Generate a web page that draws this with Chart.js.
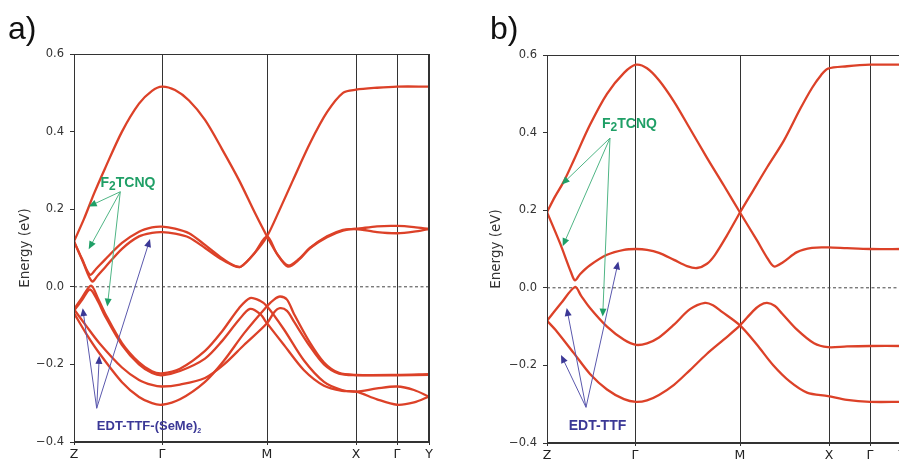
<!DOCTYPE html>
<html>
<head>
<meta charset="utf-8">
<script src="https://cdn.jsdelivr.net/npm/chart.js@4.4.0/dist/chart.umd.min.js"></script>
<style>
  html, body { margin:0; padding:0; background:#fff; overflow:hidden; width:899px; height:461px; }
  canvas { position:absolute; top:0; }
  #ca { left:0; }
  #cb { left:473px; }
</style>
</head>
<body>
<canvas id="ca" width="440" height="461"></canvas>
<canvas id="cb" width="440" height="461"></canvas>
<script>
// ── k-path: high-symmetry points ─────────────────────────
const K_POS = [0, 88, 193, 282, 323, 355];
const K_LAB = ["Z", "Γ", "M", "X", "Γ", "Y"];
const E_TICKS = [-0.4, -0.2, 0, 0.2, 0.4, 0.6];

// ── a) EDT-TTF-(SeMe)2 / F2TCNQ bands  [k, E(eV)] ────────
const a1 = [[0,0.117],[10,0.175],[20,0.24],[31,0.305],[48,0.4],[65,0.472],[78,0.505],[88,0.516],[101,0.507],[115,0.48],[131,0.43],[148,0.355],[165,0.275],[181,0.19],[193,0.13],[203,0.085],[214,0.052],[225,0.07],[236,0.1],[253,0.13],[269,0.147],[282,0.149],[303,0.156],[323,0.157],[340,0.154],[355,0.149]];
const a2 = [[0,0.117],[8,0.072],[16,0.031],[22,0.046],[31,0.07],[48,0.113],[65,0.142],[78,0.153],[88,0.155],[101,0.15],[115,0.138],[131,0.108],[148,0.074],[160,0.055],[167,0.052],[180,0.085],[193,0.13],[205,0.195],[219,0.275],[236,0.37],[253,0.45],[269,0.5],[282,0.508],[303,0.513],[323,0.516],[355,0.516]];
const a3 = [[0,0.117],[9,0.064],[18,0.014],[24,0.03],[31,0.05],[48,0.098],[65,0.13],[78,0.139],[88,0.141],[101,0.137],[115,0.127],[131,0.1],[148,0.07],[160,0.054],[167,0.052],[180,0.085],[193,0.13],[203,0.085],[214,0.055],[225,0.072],[236,0.1],[253,0.128],[269,0.145],[282,0.149],[303,0.141],[323,0.138],[340,0.142],[355,0.149]];
const a4 = [[0,-0.058],[8,-0.028],[17,0.003],[24,-0.03],[31,-0.068],[48,-0.145],[65,-0.195],[78,-0.218],[88,-0.223],[106,-0.211],[131,-0.165],[148,-0.115],[165,-0.055],[176,-0.029],[186,-0.036],[193,-0.05],[210,-0.11],[230,-0.19],[250,-0.245],[268,-0.266],[282,-0.27],[303,-0.262],[323,-0.257],[340,-0.266],[355,-0.283]];
const a5 = [[0,-0.062],[8,-0.034],[16,-0.007],[24,-0.038],[31,-0.075],[48,-0.15],[65,-0.2],[78,-0.222],[88,-0.228],[106,-0.217],[131,-0.185],[148,-0.14],[165,-0.085],[176,-0.057],[186,-0.07],[193,-0.094],[210,-0.15],[230,-0.215],[250,-0.255],[268,-0.268],[282,-0.27],[303,-0.29],[323,-0.304],[340,-0.298],[355,-0.283]];
const a6 = [[0,-0.058],[12,-0.1],[25,-0.144],[48,-0.208],[65,-0.24],[78,-0.253],[88,-0.257],[106,-0.252],[131,-0.235],[150,-0.2],[170,-0.15],[193,-0.094],[200,-0.066],[206,-0.055],[213,-0.062],[220,-0.09],[235,-0.15],[250,-0.2],[265,-0.224],[282,-0.228],[323,-0.228],[355,-0.227]];
const a7 = [[0,-0.068],[12,-0.12],[25,-0.17],[48,-0.246],[65,-0.284],[78,-0.3],[88,-0.304],[106,-0.29],[131,-0.245],[150,-0.19],[170,-0.12],[193,-0.05],[200,-0.033],[206,-0.025],[213,-0.033],[220,-0.07],[235,-0.14],[250,-0.195],[265,-0.222],[282,-0.227],[323,-0.227],[355,-0.225]];

// ── b) EDT-TTF / F2TCNQ bands ────────────────────────────
const b1 = [[0,0.195],[8,0.235],[17,0.275],[27,0.33],[43,0.42],[60,0.5],[77,0.554],[89,0.575],[100,0.566],[112,0.535],[127,0.48],[143,0.41],[160,0.335],[177,0.263],[193,0.194],[210,0.122],[220,0.078],[227,0.055],[236,0.066],[250,0.092],[265,0.103],[281,0.104],[300,0.102],[323,0.1],[355,0.1]];
const b2 = [[0,0.195],[13,0.115],[24,0.04],[28,0.019],[33,0.035],[43,0.058],[60,0.085],[77,0.098],[89,0.1],[100,0.098],[112,0.09],[127,0.072],[140,0.056],[150,0.051],[160,0.062],[168,0.085],[180,0.135],[193,0.194],[206,0.25],[220,0.31],[237,0.38],[253,0.46],[265,0.515],[274,0.548],[281,0.565],[300,0.571],[323,0.575],[355,0.575]];
const b3 = [[0,-0.085],[14,-0.04],[28,0.002],[34,-0.02],[43,-0.052],[60,-0.1],[77,-0.134],[89,-0.147],[100,-0.143],[112,-0.128],[127,-0.095],[143,-0.055],[158,-0.039],[166,-0.045],[175,-0.062],[193,-0.097],[210,-0.147],[226,-0.199],[243,-0.242],[260,-0.27],[281,-0.279],[300,-0.289],[323,-0.294],[355,-0.294]];
const b4 = [[0,-0.085],[10,-0.113],[27,-0.169],[43,-0.222],[60,-0.262],[77,-0.287],[89,-0.294],[100,-0.29],[112,-0.276],[127,-0.25],[143,-0.212],[160,-0.17],[177,-0.133],[193,-0.097],[206,-0.06],[213,-0.045],[220,-0.039],[228,-0.047],[235,-0.066],[250,-0.108],[267,-0.143],[281,-0.153],[300,-0.151],[323,-0.15],[355,-0.15]];

// ── annotations (label centre, arrow origin, arrow tips in k/E) ──
const NOTES_A = [
  { parts:[["F",0],["2",1],["TCNQ",0]], at:[54,0.268], size:14, text:"#1f9f66", line:"#4fb585",
    from:[46.3,0.245], to:[[14.7,0.207],[14.7,0.097],[33.3,-0.051]] },
  { parts:[["EDT-TTF-(SeMe)",0],["2",2]], at:[75,-0.361], size:13, text:"#3b3896", line:"#5a58ad",
    from:[22.7,-0.313], to:[[8.7,-0.055],[25.3,-0.178],[76,0.123]] }
];
const NOTES_B = [
  { parts:[["F",0],["2",1],["TCNQ",0]], at:[82.5,0.423], size:14, text:"#1f9f66", line:"#4fb585",
    from:[63,0.386], to:[[14.7,0.266],[15.7,0.107],[55.7,-0.074]] },
  { parts:[["EDT-TTF",0]], at:[50.5,-0.356], size:14, text:"#3b3896", line:"#5a58ad",
    from:[39,-0.308], to:[[19.7,-0.052],[14,-0.173],[71.3,0.068]] }
];

const RED = "#dc4128";
Chart.defaults.font.family = "'DejaVu Sans', sans-serif";

function arrow(ctx, x0, y0, x1, y1, col, head) {
  const a = Math.atan2(y1 - y0, x1 - x0), L = 8, W = 3.5;
  ctx.strokeStyle = col; ctx.lineWidth = 1;
  ctx.beginPath(); ctx.moveTo(x0, y0); ctx.lineTo(x1 - 5*Math.cos(a), y1 - 5*Math.sin(a)); ctx.stroke();
  ctx.fillStyle = head;
  ctx.beginPath();
  ctx.moveTo(x1, y1);
  ctx.lineTo(x1 - L*Math.cos(a) + W*Math.sin(a), y1 - L*Math.sin(a) - W*Math.cos(a));
  ctx.lineTo(x1 - L*Math.cos(a) - W*Math.sin(a), y1 - L*Math.sin(a) + W*Math.cos(a));
  ctx.closePath(); ctx.fill();
}

function label(ctx, n, cx, cy) {
  const fonts = [`bold ${n.size}px 'Liberation Sans'`, `bold ${n.size-2}px 'Liberation Sans'`, `bold ${n.size-6}px 'Liberation Sans'`];
  const shift = [0, 4, 4];
  let w = 0;
  n.parts.forEach(([t, k]) => { ctx.font = fonts[k]; w += ctx.measureText(t).width; });
  let x = cx - w/2;
  ctx.fillStyle = n.text; ctx.textBaseline = "middle"; ctx.textAlign = "left";
  n.parts.forEach(([t, k]) => { ctx.font = fonts[k]; ctx.fillText(t, x, cy + shift[k]); x += ctx.measureText(t).width; });
}

// ── frame, letters, axis title, arrows ───────────────────
const deco = {
  id: "deco",
  afterDatasetsDraw(chart) {
    const { ctx, chartArea: c } = chart;
    ctx.save();
    ctx.strokeStyle = "#333"; ctx.lineWidth = 1;
    ctx.strokeRect(Math.round(c.left) + 0.5, Math.round(c.top) + 0.5, Math.round(c.right - c.left) - 1, Math.round(c.bottom - c.top) - 1);
    ctx.restore();
  },
  afterDraw(chart, args, o) {
    const { ctx, chartArea: c, scales: { x, y } } = chart;
    ctx.save();
    ctx.fillStyle = "#111"; ctx.font = "32px 'Liberation Sans'"; ctx.textBaseline = "alphabetic";
    ctx.fillText(o.letter, o.letterX, 39);
    ctx.save();
    ctx.translate(o.titleX, (c.top + c.bottom) / 2); ctx.rotate(-Math.PI / 2);
    ctx.font = "13.5px 'DejaVu Sans'"; ctx.textAlign = "center"; ctx.textBaseline = "middle"; ctx.fillStyle = "#333";
    ctx.fillText("Energy (eV)", 0, 0);
    ctx.restore();
    o.notes.forEach(n => {
      const fx = x.getPixelForValue(n.from[0]), fy = y.getPixelForValue(n.from[1]);
      n.to.forEach(([k, e]) => arrow(ctx, fx, fy, x.getPixelForValue(k), y.getPixelForValue(e), n.line, n.text));
      label(ctx, n, x.getPixelForValue(n.at[0]), y.getPixelForValue(n.at[1]));
    });
    ctx.restore();
  }
};

function makeChart(id, bands, notes, letter, letterX, titleX, top, xh) {
  const sets = bands.map(b => ({
    data: b.map(([k, e]) => ({ x: k, y: e })),
    borderColor: RED, borderWidth: 2.3, pointRadius: 0,
    tension: 0.3, fill: false, order: 0
  }));
  sets.push({
    data: [{ x: K_POS[0], y: 0 }, { x: K_POS[K_POS.length - 1], y: 0 }],
    borderColor: "#444", borderWidth: 1, borderDash: [3, 2.5], pointRadius: 0, order: 1
  });
  return new Chart(document.getElementById(id), {
    type: "line",
    data: { datasets: sets },
    plugins: [deco],
    options: {
      responsive: false, animation: false, devicePixelRatio: 1,
      layout: { padding: { left: 0, right: 11, top: top, bottom: 0 } },
      plugins: { legend: { display: false }, tooltip: { enabled: false },
        deco: { notes, letter, letterX, titleX } },
      scales: {
        x: {
          type: "linear", min: K_POS[0], max: K_POS[K_POS.length - 1],
          afterBuildTicks: s => { s.ticks = K_POS.map(v => ({ value: v })); },
          afterFit: s => { s.height = xh; },
          ticks: { autoSkip: false, maxRotation: 0, padding: 2, color: "#222", font: { size: 12.5 },
            callback: (v, i) => K_LAB[i] },
          grid: { color: "#333", lineWidth: 1, tickLength: 3 },
          border: { color: "#333" }
        },
        y: {
          min: -0.4, max: 0.6,
          afterBuildTicks: s => { s.ticks = E_TICKS.map(v => ({ value: v })); },
          afterFit: s => { s.width = 74; },
          ticks: { padding: 6, color: "#333", font: { size: 11.5 },
            callback: v => (v < -1e-9 ? "\u2212" : "") + Math.abs(v).toFixed(1) },
          grid: { drawOnChartArea: false, color: "#333", tickLength: 4 },
          border: { color: "#333" }
        }
      }
    }
  });
}

makeChart("ca", [a1, a2, a3, a4, a5, a6, a7], NOTES_A, "a)", 8, 25, 54, 19);
makeChart("cb", [b1, b2, b3, b4], NOTES_B, "b)", 17, 23.7, 55, 18);
</script>
</body>
</html>
